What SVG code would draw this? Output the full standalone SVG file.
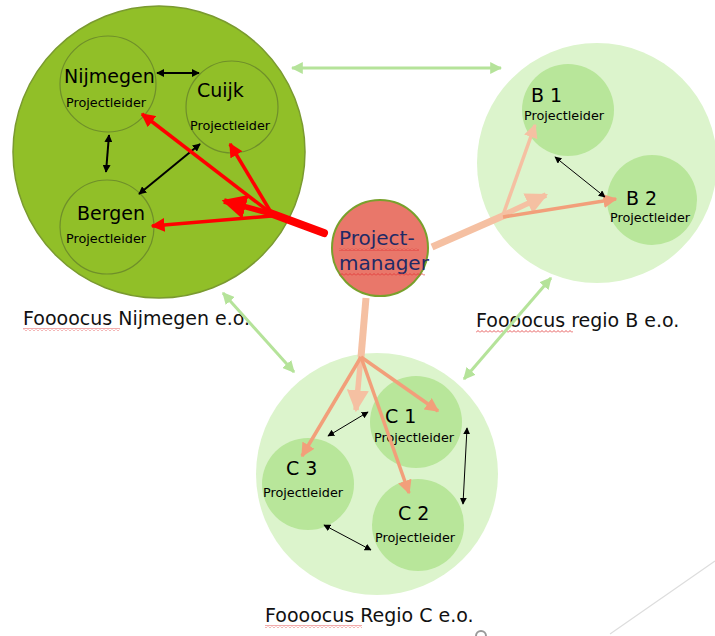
<svg xmlns="http://www.w3.org/2000/svg" width="715" height="636" viewBox="0 0 715 636">
<style>
.t{font-family:"DejaVu Sans","Liberation Sans",sans-serif;fill:#000}
.big{font-size:19px}
.pl{font-size:12.8px}
.lab{font-family:"DejaVu Sans","Liberation Sans",sans-serif;font-size:19px;fill:#111}
.pm{font-family:"DejaVu Sans","Liberation Sans",sans-serif;font-size:20px;fill:#1f2a66}
.blk{stroke:#000;stroke-width:2;fill:none}
.blk1{stroke:#000;stroke-width:1;fill:none}
.red{stroke:#ff0000;stroke-width:3.5;fill:none}
.sal{stroke:#f29f7a;stroke-width:3.5;fill:none}
.salt{stroke:#f5c0a2;fill:none}
.lg{stroke:#b5e39a;stroke-width:3;fill:none}
.sq{fill:url(#wave)}
</style>
<defs>
<marker id="mb" viewBox="0 0 10 10" refX="9" refY="5" markerWidth="4" markerHeight="4" orient="auto-start-reverse"><path d="M0,0L10,5L0,10z" fill="#000"/></marker>
<marker id="mb1" viewBox="0 0 10 10" refX="9" refY="5" markerWidth="7" markerHeight="7" orient="auto-start-reverse"><path d="M0,0L10,5L0,10z" fill="#000"/></marker>
<marker id="mr" viewBox="0 0 10 10" refX="9" refY="5" markerWidth="4" markerHeight="4" orient="auto"><path d="M0,0L10,5L0,10z" fill="#ff0000"/></marker>
<marker id="ms" viewBox="0 0 10 10" refX="9" refY="5" markerWidth="4" markerHeight="4" orient="auto"><path d="M0,0L10,5L0,10z" fill="#f29f7a"/></marker>
<marker id="mst" viewBox="0 0 10 10" refX="9" refY="5" markerWidth="4" markerHeight="4" orient="auto"><path d="M0,0L10,5L0,10z" fill="#f5c0a2"/></marker>
<marker id="mrt" viewBox="0 0 10 10" refX="9" refY="5" markerWidth="4.5" markerHeight="4.5" orient="auto"><path d="M0,0L10,5L0,10z" fill="#ff0000"/></marker>
<marker id="mg" viewBox="0 0 10 10" refX="9" refY="5" markerWidth="4" markerHeight="4" orient="auto-start-reverse"><path d="M0,0L10,5L0,10z" fill="#b5e39a"/></marker>
<pattern id="wave" x="0" y="0" width="4" height="3" patternUnits="userSpaceOnUse"><path d="M0,2.5L2,0.5L4,2.5" stroke="#e03030" stroke-width="0.8" fill="none"/></pattern>
</defs>

<g id="region-nijmegen">
<circle cx="159" cy="152" r="146" fill="#91bf28" stroke="#7a9a30" stroke-width="1.5"/>
<text class="lab" x="23" y="325">Foooocus Nijmegen e.o.</text>
<rect class="sq" x="23" y="328" width="97" height="3"/>
</g>
<g id="node-nijmegen">
<circle cx="108" cy="84" r="48" fill="#91bf28" stroke="#6f8f2a" stroke-width="1.2"/>
<text class="t big" x="64" y="83">Nijmegen</text>
<text class="t pl" x="66" y="107">Projectleider</text>
</g>
<g id="node-cuijk">
<circle cx="232" cy="107" r="46" fill="#91bf28" stroke="#6f8f2a" stroke-width="1.2"/>
<text class="t big" x="197" y="97">Cuijk</text>
<text class="t pl" x="190" y="130">Projectleider</text>
</g>
<g id="node-bergen">
<circle cx="107" cy="227" r="47" fill="#91bf28" stroke="#6f8f2a" stroke-width="1.2"/>
<text class="t big" x="77" y="220">Bergen</text>
<text class="t pl" x="66" y="243">Projectleider</text>
</g>

<g id="region-b">
<circle cx="597" cy="163" r="120" fill="#dcf4cc"/>
<text class="lab" x="476" y="327">Foooocus regio B e.o.</text>
<rect class="sq" x="476" y="330" width="97" height="3"/>
</g>
<g id="node-b1">
<circle cx="568" cy="110" r="46" fill="#b8e69a"/>
<text class="t big" x="531" y="102">B 1</text>
<text class="t pl" x="524" y="120">Projectleider</text>
</g>
<g id="node-b2">
<circle cx="652" cy="200" r="45" fill="#b8e69a"/>
<text class="t big" x="626" y="205">B 2</text>
<text class="t pl" x="610" y="222">Projectleider</text>
</g>

<g id="region-c">
<circle cx="377" cy="474" r="121" fill="#dcf4cc"/>
<text class="lab" x="265" y="622">Foooocus Regio C e.o.</text>
<rect class="sq" x="265" y="625" width="97" height="3"/>
</g>
<g id="node-c1">
<circle cx="416" cy="422" r="46" fill="#b8e69a"/>
<text class="t big" x="385" y="423">C 1</text>
<text class="t pl" x="374" y="442">Projectleider</text>
</g>
<g id="node-c2">
<circle cx="418" cy="525" r="46" fill="#b8e69a"/>
<text class="t big" x="398" y="520">C 2</text>
<text class="t pl" x="375" y="542">Projectleider</text>
</g>
<g id="node-c3">
<circle cx="308" cy="484" r="46" fill="#b8e69a"/>
<text class="t big" x="286" y="475">C 3</text>
<text class="t pl" x="263" y="497">Projectleider</text>
</g>

<g id="connectors">
<line class="lg" x1="292" y1="68" x2="501" y2="68" marker-start="url(#mg)" marker-end="url(#mg)"/>
<line class="lg" x1="223" y1="293" x2="294" y2="372" marker-start="url(#mg)" marker-end="url(#mg)"/>
<line class="lg" x1="551" y1="278" x2="464" y2="379" marker-start="url(#mg)" marker-end="url(#mg)"/>
<line class="blk" x1="157" y1="73" x2="199" y2="73" marker-start="url(#mb)" marker-end="url(#mb)"/>
<line class="blk" x1="109" y1="135" x2="106" y2="172" marker-start="url(#mb)" marker-end="url(#mb)"/>
<line class="blk" x1="200" y1="144" x2="139" y2="194" marker-start="url(#mb)" marker-end="url(#mb)"/>
<line stroke="#ff0000" stroke-width="8" stroke-linecap="round" x1="324" y1="233" x2="270" y2="213"/>
<line stroke="#ff0000" stroke-width="5.5" x1="272" y1="214" x2="224" y2="201" marker-end="url(#mrt)"/>
<line class="red" x1="272" y1="214" x2="142" y2="114" marker-end="url(#mr)"/>
<line class="red" x1="272" y1="214" x2="230" y2="144" marker-end="url(#mr)"/>
<line class="red" x1="272" y1="216" x2="152" y2="226" marker-end="url(#mr)"/>
<line class="salt" stroke-width="7" x1="432" y1="247" x2="505" y2="215"/>
<line class="salt" stroke-width="5.5" x1="503" y1="215" x2="546" y2="195" marker-end="url(#mst)"/>
<line class="salt" stroke-width="3.5" x1="503" y1="215" x2="535" y2="125" marker-end="url(#mst)"/>
<line class="sal" x1="503" y1="217" x2="616" y2="199" marker-end="url(#ms)"/>
<line class="blk1" x1="555" y1="157" x2="605" y2="197" marker-start="url(#mb1)" marker-end="url(#mb1)"/>
<line class="salt" stroke-width="7" x1="366" y1="298" x2="361" y2="357"/>
<line class="salt" stroke-width="5.5" x1="361" y1="355" x2="356" y2="410" marker-end="url(#mst)"/>
<line class="sal" x1="361" y1="357" x2="438" y2="411" marker-end="url(#ms)"/>
<line class="sal" x1="361" y1="357" x2="409" y2="493" marker-end="url(#ms)"/>
<line class="sal" x1="361" y1="357" x2="302" y2="456" marker-end="url(#ms)"/>
<line class="blk1" x1="328" y1="436" x2="368" y2="412" marker-start="url(#mb1)" marker-end="url(#mb1)"/>
<line class="blk1" x1="467" y1="428" x2="463" y2="504" marker-start="url(#mb1)" marker-end="url(#mb1)"/>
<line class="blk1" x1="324" y1="525" x2="371" y2="550" marker-start="url(#mb1)" marker-end="url(#mb1)"/>
</g>

<g id="node-projectmanager">
<circle cx="380" cy="248" r="48" fill="#e9776a" stroke="#79a02c" stroke-width="2"/>
<text class="pm" x="339" y="245">Project-</text>
<text class="pm" x="339" y="270">manager</text>
<rect class="sq" x="339" y="248" width="80" height="3"/>
<rect class="sq" x="339" y="273" width="86" height="3"/>
</g>

<g id="artifacts">
<line x1="610" y1="634" x2="715" y2="561" stroke="#dddddd" stroke-width="1.2"/>
<path d="M476,636A5,5 0 0 1 486,636" stroke="#999" stroke-width="2" fill="none"/>
</g>
</svg>
